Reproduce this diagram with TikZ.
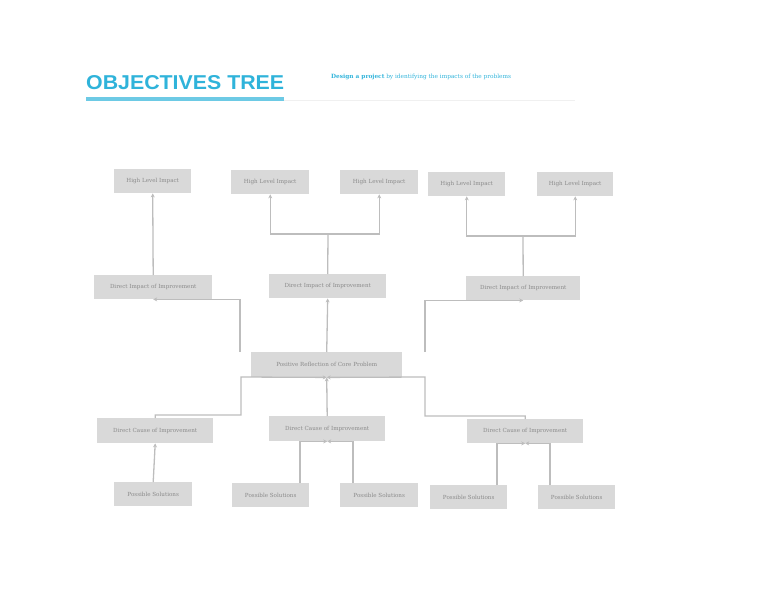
\documentclass[tikz,border=0pt]{standalone}
\usepackage{fontspec}
\setmainfont{DejaVu Serif}
\setsansfont{Liberation Sans}
\usetikzlibrary{arrows.meta}
\definecolor{boxc}{HTML}{D9D9D9}
\definecolor{txtc}{HTML}{8A8A8A}
\definecolor{linec}{HTML}{BDBDBD}
\definecolor{titc}{HTML}{2FB3DA}
\begin{document}
\begin{tikzpicture}[x=1pt,y=-1pt,
  bx/.style={fill=boxc,text=txtc,font=\fontsize{5.6}{6}\selectfont,inner sep=0pt,anchor=north west},
  ln/.style={draw=linec,line width=1.3pt},
  ar/.style={ln,-{Stealth[length=4pt,width=4pt]}}]
\useasboundingbox (0,0) rectangle (768,594);
\newcommand{\bxn}[6]{\node[bx,minimum width=#4-#2,minimum height=#5-#3] (#1) at (#2,#3) {#6};}
\node[anchor=west,text=titc,font=\sffamily\bfseries,inner sep=0pt] (title) at (86,83) {\resizebox{198pt}{14pt}{OBJECTIVES TREE}};
\fill[titc!70] (86,97) rectangle (284,101);
\draw[gray!12,line width=0.6pt] (284,100) -- (575,100);
\node[anchor=west,inner sep=0pt,text=titc,font=\fontsize{5.8}{6}\selectfont] (sub) at (331,77) {\textbf{Design a project} by identifying the impacts of the problems};
\bxn{h1}{114}{169}{191}{193}{High Level Impact}
\bxn{h2}{231}{170}{309}{194}{High Level Impact}
\bxn{h3}{340}{170}{418}{194}{High Level Impact}
\bxn{h4}{428}{172}{505}{196}{High Level Impact}
\bxn{h5}{537}{172}{613}{196}{High Level Impact}
\bxn{d1}{94}{275}{212}{299}{Direct Impact of Improvement}
\bxn{d2}{269}{274}{386}{298}{Direct Impact of Improvement}
\bxn{d3}{466}{276}{580}{300}{Direct Impact of Improvement}
\bxn{p}{251}{352}{402}{377}{Positive Reflection of Core Problem}
\bxn{c1}{97}{418}{213}{443}{Direct Cause of Improvement}
\bxn{c2}{269}{416}{385}{441}{Direct Cause of Improvement}
\bxn{c3}{467}{419}{583}{443}{Direct Cause of Improvement}
\bxn{s1}{114}{482}{192}{506}{Possible Solutions}
\bxn{s2}{232}{483}{309}{507}{Possible Solutions}
\bxn{s3}{340}{483}{418}{507}{Possible Solutions}
\bxn{s4}{430}{485}{507}{509}{Possible Solutions}
\bxn{s5}{538}{485}{615}{509}{Possible Solutions}
% top
\draw[ar] (d1.north) -- (h1.south);
\draw[ln] (d2.north) -- (328,234);
\draw[ar] (328,234) -| (h2.south);
\draw[ar] (328,234) -| (h3.south);
\draw[ln] (d3.north) -- (523,236);
\draw[ar] (523,236) -| (h4.south);
\draw[ar] (523,236) -| (h5.south);
% core up
\draw[ar] (240,352) |- (d1.south);
\draw[ar] (p.north) -- (d2.south);
\draw[ar] (425,352) |- (d3.south);
% causes
\draw[ar] (c1.north) -- ++(0,-3) -| (241,377) -- (p.south);
\draw[ar] (c2.north) -- (p.south);
\draw[ar] (c3.north) -- ++(0,-3) -| (425,377) -- (p.south);
\draw[ar] (s1.north) -- (c1.south);
\draw[ar] (300,483) |- (c2.south);
\draw[ar] (353,483) |- (c2.south);
\draw[ar] (497,485) |- (c3.south);
\draw[ar] (550,485) |- (c3.south);
\end{tikzpicture}
\end{document}
